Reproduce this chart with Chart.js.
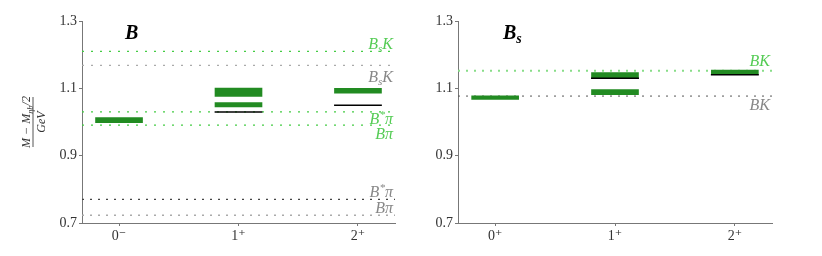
<!DOCTYPE html>
<html>
<head>
<meta charset="utf-8">
<script src="https://cdn.jsdelivr.net/npm/chart.js@4.4.1/dist/chart.umd.min.js"></script>
<style>
  body { margin: 0; background: #fff; }
  #wrap { position: relative; width: 822px; height: 256px; }
  canvas { position: absolute; top: 0; }
</style>
</head>
<body>
<div id="wrap">
  <canvas id="chartB" width="420" height="256" style="left:0"></canvas>
  <canvas id="chartBs" width="402" height="256" style="left:420px"></canvas>
</div>
<script>
// ---- data ----
const catB = ['0⁻', '1⁺', '2⁺'];
const catBs = ['0⁺', '1⁺', '2⁺'];
const yTickVals = [0.7, 0.9, 1.1, 1.3];

// B panel: lattice results (green bands)
const bBandCat = [0, 1, 1, 2];
const bBandLo = [0.998, 1.076, 1.045, 1.086];
const bBandHi = [1.013, 1.101, 1.058, 1.100];
// B panel: other results (black lines)
const bLineCat = [1, 2];
const bLineVal = [1.030, 1.050];
// B panel: thresholds
const bThrName = ['BsK', 'BsK', 'B*π', 'Bπ', 'B*π', 'Bπ'];
const bThrVal = [1.210, 1.168, 1.030, 0.991, 0.770, 0.723];
const bThrKind = ['lat', 'phys', 'lat', 'lat', 'phys', 'phys'];

// Bs panel
const bsBandCat = [0, 1, 1, 2];
const bsBandLo = [1.067, 1.132, 1.081, 1.142];
const bsBandHi = [1.078, 1.147, 1.096, 1.154];
const bsLineCat = [1, 2];
const bsLineVal = [1.130, 1.140];
const bsThrName = ['BK', 'BK'];
const bsThrVal = [1.152, 1.077];
const bsThrKind = ['lat', 'phys'];

// ---- styles ----
const X_MIN = -0.31, X_MAX = 2.31, HALF = 0.2;
const GREEN_BAND = '#228b22';
const bThrStyle = [
  {color: '#44cc44', dash: [2, 7], w: 1.2, dy: -8, text: '#55cc55'},
  {color: '#aaaaaa', dash: [2, 7], w: 1.2, dy: 11, text: '#888888'},
  {color: '#44cc44', dash: [2, 7], w: 1.2, dy: 7, text: '#55cc55'},
  {color: '#44cc44', dash: [2, 7], w: 1.2, dy: 9, text: '#55cc55'},
  {color: '#444444', dash: [2, 6], w: 1.2, dy: -8, text: '#888888'},
  {color: '#aaaaaa', dash: [2, 6], w: 1.6, dy: -8, text: '#888888'}
];
const bsThrStyle = [
  {color: '#88dd88', dash: [2, 6], w: 2, dy: -10, text: '#55cc55'},
  {color: '#555555', dash: [2, 6], w: 1, dy: 9, text: '#888888'}
];

function parts(name) {
  if (name === 'BsK') return [['B', 0], ['s', 1], ['K', 0]];
  if (name === 'B*π') return [['B', 0], ['*', -1], ['π', 0]];
  return [...name].map(c => [c, 0]);
}

function drawMath(ctx, pieces, x, y, size, color, style, align) {
  const fam = '"Liberation Serif", "DejaVu Serif", serif';
  let total = 0;
  const ws = pieces.map(p => {
    const fs = p[1] ? size * 0.7 : size;
    ctx.font = style + ' ' + fs + 'px ' + fam;
    const w = ctx.measureText(p[0]).width;
    total += w;
    return w;
  });
  let cx = align === 'right' ? x - total : (align === 'center' ? x - total / 2 : x);
  const base = y + size * 0.33;
  ctx.fillStyle = color;
  ctx.textBaseline = 'alphabetic';
  ctx.textAlign = 'left';
  pieces.forEach((p, i) => {
    const fs = p[1] ? size * 0.7 : size;
    ctx.font = style + ' ' + fs + 'px ' + fam;
    const off = p[1] === 1 ? size * 0.22 : (p[1] === -1 ? -size * 0.38 : 0);
    ctx.fillText(p[0], cx, base + off);
    cx += ws[i];
  });
}

const textPlugin = {
  id: 'texts',
  afterDraw(chart, args, o) {
    const ctx = chart.ctx, ys = chart.scales.y, a = chart.chartArea;
    ctx.save();
    drawMath(ctx, o.title, o.titleX, 32, 20, '#000', 'bold italic', 'left');
    o.thr.forEach(t => {
      drawMath(ctx, parts(t.name), a.right - 2, ys.getPixelForValue(t.value) + t.dy, 16, t.color, 'italic', 'right');
    });
    if (o.yTitle) {
      ctx.translate(33, 122);
      ctx.rotate(-Math.PI / 2);
      ctx.strokeStyle = '#555';
      ctx.lineWidth = 1;
      ctx.beginPath();
      ctx.moveTo(-25, 0);
      ctx.lineTo(25, 0);
      ctx.stroke();
      drawMath(ctx, [['M', 0], [' − ', 0], ['M', 0], ['ηb', 1], ['/2', 0]], 0, -7, 12, '#333', 'italic', 'center');
      drawMath(ctx, [['GeV', 0]], 0, 8, 12, '#333', 'italic', 'center');
    }
    ctx.restore();
  }
};

function makeChart(id, cfg) {
  const datasets = [];
  cfg.thrVal.forEach((v, i) => {
    const st = cfg.thrStyle[i];
    datasets.push({
      type: 'line',
      data: [{x: X_MIN, y: v}, {x: X_MAX, y: v}],
      borderColor: st.color, borderDash: st.dash, borderWidth: st.w,
      pointRadius: 0, order: 3
    });
  });
  cfg.bandCat.forEach((c, i) => {
    datasets.push({
      type: 'bar',
      data: [{x: c, y: [cfg.bandLo[i], cfg.bandHi[i]]}],
      backgroundColor: GREEN_BAND, borderWidth: 0,
      barThickness: 47, grouped: false, order: 2
    });
  });
  cfg.lineCat.forEach((c, i) => {
    datasets.push({
      type: 'line',
      data: [{x: c - HALF, y: cfg.lineVal[i]}, {x: c + HALF, y: cfg.lineVal[i]}],
      borderColor: '#000', borderWidth: 1.5, pointRadius: 0, order: 1
    });
  });

  const tickFont = {family: '"Liberation Serif", "DejaVu Serif", serif', size: 14};
  return new Chart(document.getElementById(id), {
    type: 'bar',
    data: {datasets: datasets},
    plugins: [textPlugin],
    options: {
      responsive: false,
      animation: false,
      devicePixelRatio: 1,
      layout: {padding: {top: 21, right: cfg.padRight, bottom: 0, left: 0}},
      scales: {
        x: {
          type: 'linear', min: X_MIN, max: X_MAX, offset: false,
          afterBuildTicks: s => { s.ticks = cfg.cats.map((c, i) => ({value: i})); },
          afterFit: s => { s.height = 33; },
          ticks: {callback: v => cfg.cats[v], color: '#333', font: tickFont, padding: 2, maxRotation: 0},
          grid: {drawOnChartArea: false, offset: false, tickLength: 3, color: '#777'},
          border: {color: '#777'}
        },
        y: {
          min: 0.7, max: 1.3,
          afterBuildTicks: s => { s.ticks = yTickVals.map(v => ({value: v})); },
          afterFit: s => { s.width = cfg.yWidth; },
          ticks: {callback: v => v.toFixed(1), color: '#333', font: tickFont, padding: 2},
          grid: {drawOnChartArea: false, tickLength: 3, color: '#777'},
          border: {color: '#777'}
        }
      },
      plugins: {
        legend: {display: false},
        tooltip: {enabled: false},
        texts: {
          title: cfg.title, titleX: cfg.titleX, yTitle: cfg.yTitle,
          thr: cfg.thrName.map((n, i) => ({name: n, value: cfg.thrVal[i], dy: cfg.thrStyle[i].dy,
            color: cfg.thrStyle[i].text}))
        }
      }
    }
  });
}

makeChart('chartB', {
  cats: catB, bandCat: bBandCat, bandLo: bBandLo, bandHi: bBandHi,
  lineCat: bLineCat, lineVal: bLineVal,
  thrName: bThrName, thrVal: bThrVal, thrStyle: bThrStyle,
  title: [['B', 0]], titleX: 125, yTitle: true, yWidth: 82, padRight: 25
});

makeChart('chartBs', {
  cats: catBs, bandCat: bsBandCat, bandLo: bsBandLo, bandHi: bsBandHi,
  lineCat: bsLineCat, lineVal: bsLineVal,
  thrName: bsThrName, thrVal: bsThrVal, thrStyle: bsThrStyle,
  title: [['B', 0], ['s', 1]], titleX: 83, yTitle: false, yWidth: 38, padRight: 50
});
</script>
</body>
</html>
